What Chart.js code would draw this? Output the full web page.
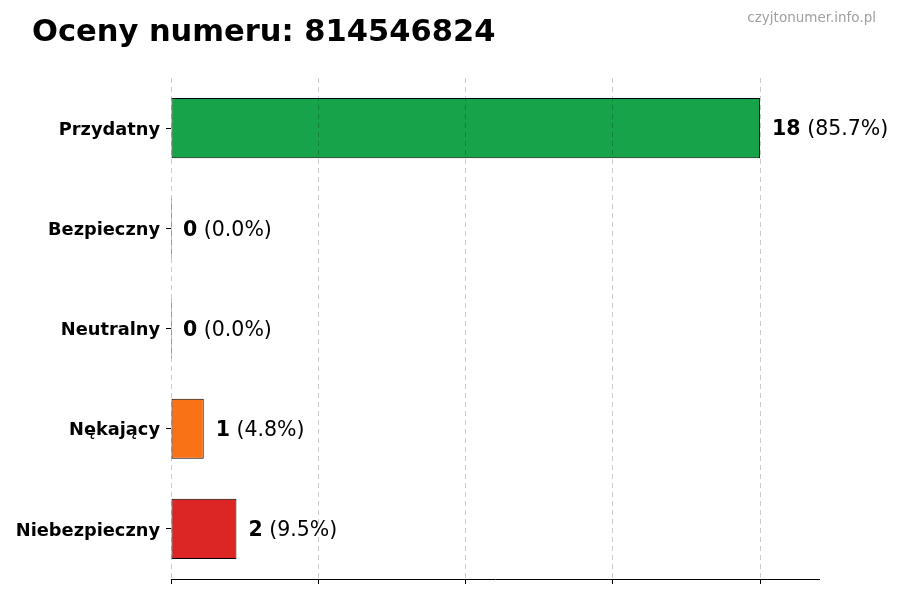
<!DOCTYPE html>
<html>
<head>
<meta charset="utf-8">
<title>Oceny numeru</title>
<script src="https://cdn.jsdelivr.net/npm/chart.js@4/dist/chart.umd.min.js"></script>
<style>
  html, body { margin: 0; padding: 0; background: #fff; }
  #wrap { width: 900px; height: 600px; position: relative; }
</style>
</head>
<body>
<div id="wrap"><canvas id="chart"></canvas></div>
<script>
////////////////////////////////// data /////////////////////////////////////////
const categories = ['Przydatny', 'Bezpieczny', 'Neutralny', 'Nękający', 'Niebezpieczny'];
const counts = [18, 0, 0, 1, 2];
const percentLabels = ['85.7%', '0.0%', '0.0%', '4.8%', '9.5%'];
const barColors = ['#16a34a', '#16a34a', '#9ca3af', '#f97316', '#dc2626'];
const xTicks = [0, 4.5, 9, 13.5, 18];
const xMax = 19.8;

const titleText = 'Oceny numeru: 814546824';
const watermark = 'czyjtonumer.info.pl';
const fontFamily = '"DejaVu Sans", Verdana, sans-serif';

////////////////////////////////// plugins //////////////////////////////////////
// title + watermark
const headerPlugin = {
  id: 'header',
  afterDraw(chart) {
    const ctx = chart.ctx;
    ctx.save();
    ctx.fillStyle = '#000';
    ctx.font = `bold 30.5px ${fontFamily}`;
    ctx.textAlign = 'left';
    ctx.textBaseline = 'alphabetic';
    ctx.fillText(titleText, 32, 41);

    ctx.fillStyle = '#a0a0a0';
    ctx.font = `13.5px ${fontFamily}`;
    ctx.textAlign = 'right';
    ctx.fillText(watermark, 876, 22);
    ctx.restore();
  }
};

// "18 (85.7%)" next to each bar
const valueLabels = {
  id: 'valueLabels',
  afterDatasetsDraw(chart) {
    const ctx = chart.ctx;
    const xScale = chart.scales.x;
    const yScale = chart.scales.y;
    ctx.save();
    ctx.textBaseline = 'middle';
    ctx.textAlign = 'left';
    counts.forEach((v, i) => {
      let x = xScale.getPixelForValue(v) + 12;
      const y = yScale.getPixelForValue(i) + 2;
      ctx.fillStyle = '#000';
      ctx.font = `bold 20.5px ${fontFamily}`;
      const bold = String(v);
      ctx.fillText(bold, x, y);
      x += ctx.measureText(bold).width;
      ctx.font = `20.5px ${fontFamily}`;
      ctx.fillText(` (${percentLabels[i]})`, x, y);
    });
    ctx.restore();
  }
};

////////////////////////////////// chart ////////////////////////////////////////
const ctx = document.getElementById('chart').getContext('2d');

const chart = new Chart(ctx, {
  type: 'bar',
  data: {
    labels: categories,
    datasets: [{
      data: counts,
      backgroundColor: barColors,
      borderColor: '#000',
      borderWidth: 1,
      borderSkipped: false,
      minBarLength: 1,
      barPercentage: 0.6,
      categoryPercentage: 1.0
    }]
  },
  options: {
    indexAxis: 'y',
    responsive: true,
    maintainAspectRatio: false,
    animation: false,
    layout: {
      padding: { top: 78, right: 81, bottom: 0, left: 0 }
    },
    plugins: {
      legend: { display: false },
      tooltip: { enabled: false },
      title: { display: false }
    },
    scales: {
      x: {
        min: 0,
        max: xMax,
        afterBuildTicks: (scale) => {
          scale.ticks = xTicks.map(v => ({ value: v }));
        },
        afterFit: (scale) => { scale.height = 21; },
        ticks: { display: false },
        grid: {
          z: 1,
          color: 'rgba(0,0,0,0.2)',
          lineWidth: 1,
          drawTicks: true,
          tickLength: 5,
          tickColor: '#000',
          tickBorderDash: []
        },
        border: { display: true, color: '#000', width: 1, dash: [5, 4], z: 2 }
      },
      y: {
        afterFit: (scale) => { scale.width = 171; },
        ticks: {
          color: '#000',
          padding: 6,
          labelOffset: 2,
          font: { family: fontFamily, size: 17.8, weight: 'bold' }
        },
        grid: {
          offset: false,
          drawOnChartArea: false,
          drawTicks: true,
          tickLength: 5,
          tickColor: '#000'
        },
        border: { display: false }
      }
    }
  },
  plugins: [headerPlugin, valueLabels]
});
</script>
</body>
</html>
